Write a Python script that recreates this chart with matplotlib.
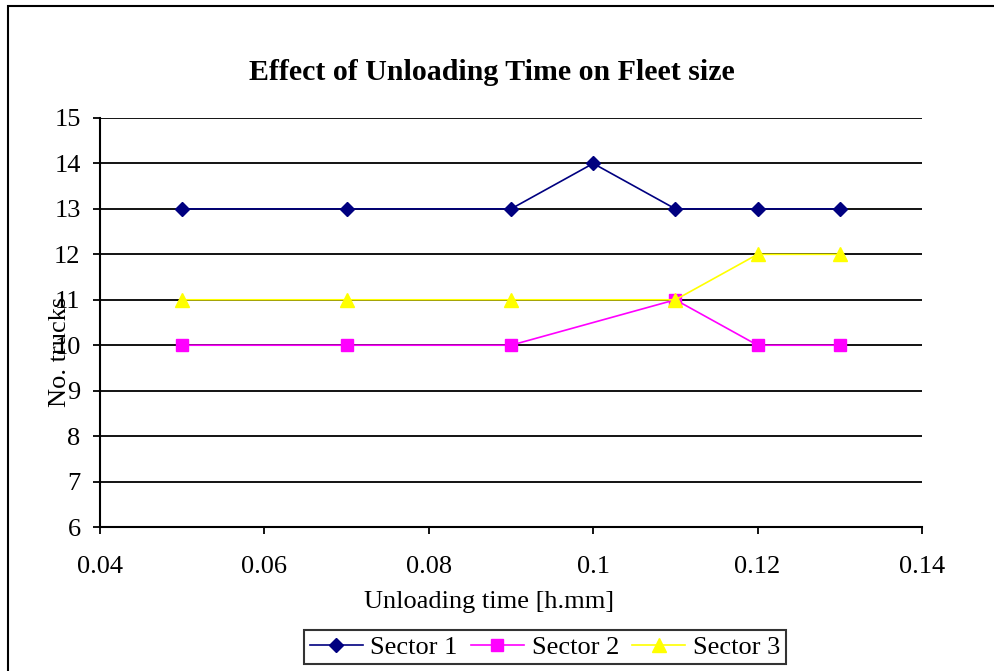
import matplotlib
matplotlib.use("Agg")
import matplotlib.pyplot as plt
from matplotlib.patches import Rectangle

plt.rcParams['font.family'] = ['Liberation Serif', 'DejaVu Serif']

# data
x_s1 = [0.05, 0.07, 0.09, 0.10, 0.11, 0.12, 0.13]
sector1 = [13, 13, 13, 14, 13, 13, 13]
x_s23 = [0.05, 0.07, 0.09, 0.11, 0.12, 0.13]
sector2 = [10, 10, 10, 11, 10, 10]
sector3 = [11, 11, 11, 11, 12, 12]
x_ticks = [0.04, 0.06, 0.08, 0.10, 0.12, 0.14]
x_labels = ['0.04', '0.06', '0.08', '0.1', '0.12', '0.14']
y_ticks = list(range(6, 16))

W, H = 994, 671
fig = plt.figure(figsize=(W / 100, H / 100), dpi=100)
ax = fig.add_axes([100 / W, 1 - 527 / H, 822 / W, 409 / H])

for y in y_ticks[1:]:
    ax.axhline(y, color='black', lw=1.3, zorder=1)

ax.plot(x_s1, sector1, color='#000080', marker='D', ms=7.5, lw=1.2,
        label='Sector 1', zorder=3)
ax.plot(x_s23, sector2, color='#FF00FF', marker='s', ms=8.5, lw=1.2,
        label='Sector 2', zorder=3)
ax.plot(x_s23, sector3, color='#FFFF00', marker='^', ms=9.5, lw=1.2,
        label='Sector 3', zorder=4)

ax.set_xlim(0.04, 0.14)
ax.set_ylim(6, 15)
ax.set_xticks(x_ticks)
ax.set_xticklabels(x_labels)
ax.set_yticks(y_ticks)
ax.tick_params(direction='out', length=5, width=1.3, labelsize=19,
               colors='black')
ax.tick_params(axis='x', pad=16)
ax.tick_params(axis='y', pad=9)
for s in ['top', 'right']:
    ax.spines[s].set_visible(False)
for s in ['left', 'bottom']:
    ax.spines[s].set_linewidth(1.5)

fig.text(492 / W, 1 - 72 / H, 'Effect of Unloading Time on Fleet size',
         ha='center', va='center', fontsize=21.5, fontweight='bold')
fig.text(489 / W, 1 - 602 / H, 'Unloading time [h.mm]', ha='center',
         va='center', fontsize=19)
fig.text(60 / W, 1 - 352 / H, 'No. trucks', ha='center', va='center',
         fontsize=19, rotation=90)

leg = fig.legend(loc='center', bbox_to_anchor=(545 / W, 1 - 647 / H), ncol=3,
                 fontsize=19, frameon=True, fancybox=False, edgecolor='black',
                 handlelength=2.0, handletextpad=0.3, columnspacing=0.5,
                 borderpad=0.2)
leg.get_frame().set_linewidth(1.5)

fig.patches.append(Rectangle((8 / W, -0.1), 1.2, 1.1 - 6 / H,
                             transform=fig.transFigure, fill=False,
                             edgecolor='black', lw=1.5))

fig.savefig('out.png', dpi=100)
